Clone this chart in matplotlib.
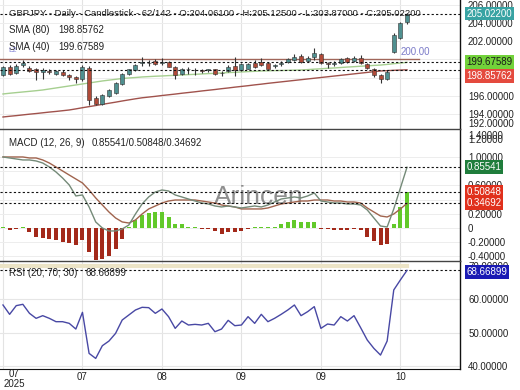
import matplotlib
matplotlib.use("Agg")
import matplotlib.pyplot as plt

plt.rcParams['font.family'] = ['Liberation Sans', 'DejaVu Sans']

# ---------------- data ----------------
opens = [198.30, 199.15, 198.50, 199.40, 199.10, 198.90, 198.60, 198.75, 198.45, 198.65,
         198.30, 198.05, 197.80, 199.10, 195.80, 195.10, 196.00, 196.35, 197.35, 198.45,
         198.85, 199.55, 199.65, 199.85, 199.55, 199.75, 199.20, 198.45, 198.90, 198.85,
         198.85, 198.80, 198.90, 198.50, 198.70, 199.30, 198.80, 199.00, 199.65, 199.75,
         199.55, 199.30, 199.50, 199.70, 199.95, 200.40, 199.85, 200.30, 200.55, 199.60,
         199.50, 199.60, 200.10, 199.80, 200.20, 199.50, 198.95, 198.25, 197.90, 200.80,
         202.35, 204.061]
highs = [199.30, 199.35, 199.50, 199.95, 199.30, 199.05, 199.10, 198.95, 198.85, 198.80,
         198.40, 198.15, 199.40, 199.30, 196.00, 196.20, 196.80, 197.50, 198.55, 199.00,
         199.50, 200.25, 199.90, 200.05, 200.10, 199.85, 199.30, 199.10, 199.15, 199.10,
         198.95, 199.00, 199.00, 198.75, 199.35, 200.25, 199.65, 199.60, 199.90, 200.15,
         199.70, 199.50, 199.85, 200.20, 200.60, 200.55, 200.35, 201.30, 200.65, 199.75,
         199.80, 200.10, 200.30, 200.40, 200.45, 199.60, 199.05, 198.35, 198.85, 202.85,
         204.10, 205.125]
lows = [198.20, 198.30, 198.40, 199.20, 198.60, 197.70, 197.80, 198.40, 198.30, 198.20,
        197.70, 197.40, 197.60, 195.00, 194.95, 195.00, 195.90, 196.20, 197.20, 198.30,
        198.75, 199.30, 199.30, 199.40, 199.35, 199.15, 197.85, 198.30, 198.40, 198.25,
        198.55, 198.60, 198.25, 198.20, 198.60, 198.20, 198.70, 198.90, 199.10, 199.30,
        198.90, 199.10, 199.30, 199.55, 199.80, 199.60, 199.75, 199.95, 199.45, 199.10,
        199.30, 199.50, 199.60, 199.70, 199.50, 198.90, 198.10, 197.45, 197.75, 200.70,
        202.25, 203.870]
closes = [199.15, 198.40, 199.30, 199.55, 198.75, 198.60, 198.85, 198.65, 198.70, 198.30,
          198.05, 197.80, 199.20, 195.50, 195.10, 196.05, 196.65, 197.40, 198.45, 198.90,
          199.40, 199.75, 199.55, 199.50, 199.70, 199.20, 198.30, 199.00, 198.95, 198.80,
          198.75, 198.90, 198.35, 198.55, 199.20, 198.80, 199.50, 199.50, 199.20, 199.40,
          199.00, 199.40, 199.65, 200.00, 200.25, 199.70, 200.20, 200.70, 199.60, 199.50,
          199.65, 200.00, 199.70, 200.20, 199.60, 199.05, 198.25, 197.85, 198.65, 202.70,
          204.00, 205.022]

sma40 = [196.20, 196.28, 196.35, 196.42, 196.49, 196.56, 196.64, 196.75, 196.86, 196.97,
         197.08, 197.19, 197.30, 197.41, 197.52, 197.63, 197.72, 197.81, 197.90, 197.96,
         198.01, 198.07, 198.11, 198.15, 198.18, 198.22, 198.25, 198.29, 198.33, 198.36,
         198.40, 198.44, 198.47, 198.51, 198.55, 198.58, 198.62, 198.66, 198.69, 198.73,
         198.75, 198.77, 198.78, 198.80, 198.82, 198.84, 198.88, 198.93, 198.97, 199.02,
         199.06, 199.11, 199.16, 199.20, 199.25, 199.29, 199.34, 199.38, 199.45, 199.53,
         199.60, 199.676]
sma80 = [193.67, 193.75, 193.82, 193.90, 193.98, 194.05, 194.13, 194.21, 194.28, 194.36,
         194.44, 194.56, 194.69, 194.81, 194.93, 195.06, 195.18, 195.30, 195.43, 195.55,
         195.67, 195.78, 195.86, 195.94, 196.03, 196.11, 196.19, 196.28, 196.36, 196.44,
         196.53, 196.61, 196.69, 196.78, 196.86, 196.95, 197.03, 197.11, 197.20, 197.28,
         197.37, 197.45, 197.53, 197.61, 197.69, 197.77, 197.85, 197.93, 198.01, 198.09,
         198.17, 198.25, 198.33, 198.41, 198.49, 198.57, 198.65, 198.73, 198.76, 198.80,
         198.83, 198.858]

macd = [1.000, 0.986, 0.972, 0.958, 0.958, 0.944, 0.915, 0.859, 0.789, 0.704,
        0.606, 0.451, 0.465, 0.296, 0.085, 0.000, -0.042, -0.042, -0.014, 0.042,
        0.197, 0.338, 0.437, 0.507, 0.535, 0.521, 0.465, 0.437, 0.408, 0.380,
        0.352, 0.338, 0.310, 0.296, 0.310, 0.296, 0.282, 0.296, 0.310, 0.296,
        0.324, 0.366, 0.408, 0.423, 0.437, 0.423, 0.451, 0.493, 0.380, 0.366,
        0.352, 0.352, 0.338, 0.338, 0.324, 0.254, 0.141, 0.028, 0.014, 0.268,
        0.563, 0.855]
signal = [1.000, 1.000, 1.000, 1.000, 0.986, 0.986, 0.958, 0.915, 0.859, 0.803,
          0.746, 0.690, 0.634, 0.535, 0.423, 0.324, 0.225, 0.141, 0.085, 0.070,
          0.113, 0.197, 0.268, 0.310, 0.352, 0.380, 0.394, 0.394, 0.394, 0.394,
          0.380, 0.366, 0.352, 0.324, 0.310, 0.296, 0.268, 0.268, 0.268, 0.268,
          0.282, 0.310, 0.338, 0.352, 0.366, 0.380, 0.380, 0.394, 0.394, 0.394,
          0.380, 0.380, 0.366, 0.366, 0.352, 0.282, 0.225, 0.169, 0.155, 0.197,
          0.268, 0.347]
hist = [0.01, -0.03, -0.02, 0.0, -0.06, -0.13, -0.14, -0.15, -0.17, -0.20,
        -0.21, -0.24, -0.17, -0.34, -0.45, -0.43, -0.39, -0.29, -0.15, 0.02,
        0.11, 0.18, 0.21, 0.23, 0.23, 0.15, 0.06, 0.05, 0.01, 0.01,
        -0.01, -0.02, -0.04, -0.08, -0.06, -0.05, -0.04, -0.01, 0.0, 0.01,
        0.01, 0.01, 0.05, 0.08, 0.11, 0.08, 0.08, 0.08, -0.01, -0.01,
        -0.03, -0.03, -0.03, -0.02, -0.03, -0.12, -0.19, -0.24, -0.23, 0.06,
        0.30, 0.508]
rsi = [58.3, 55.5, 58.1, 58.5, 55.8, 54.3, 55.1, 54.3, 53.3, 53.3,
       52.8, 51.1, 56.1, 43.8, 42.3, 46.1, 47.5, 49.8, 53.8, 55.3,
       56.8, 57.6, 57.5, 55.8, 57.1, 54.8, 51.3, 53.5, 52.3, 52.5,
       52.3, 52.8, 50.3, 51.1, 53.7, 52.1, 52.3, 54.8, 52.8, 55.5,
       53.3, 54.3, 55.5, 56.8, 58.3, 55.1, 56.3, 57.8, 51.3, 52.6,
       52.3, 54.8, 53.5, 55.1, 51.5, 47.8, 45.3, 43.3, 47.5, 62.8,
       65.8, 68.67]

tick_bars = [12, 24, 36, 48, 60]
tick_labels = ["07", "08", "09", "09", "10"]
first_label = "07\n2025"

price_ticks = [206, 204, 202, 200, 196, 194]
macd_ticks = [1.0, 0.6, 0.2, 0.0, -0.2, -0.4]
rsi_ticks = [70, 60, 50, 40]

last_sma40 = 199.67589
last_sma80 = 198.85762
last_close = 205.02200
level_200 = 200.0
macd_last, hist_last, sig_last = 0.85541, 0.50848, 0.34692
rsi_last = 68.66899
rsi_level = 70

# ---------------- layout ----------------
W, H = 520, 390
fig = plt.figure(figsize=(5.2, 3.9), dpi=100)
RIGHT = 460


def ax_at(top, bottom):
    return fig.add_axes([0, 1 - bottom / H, RIGHT / W, (bottom - top) / H])


ax1 = ax_at(0, 129)
ax2 = ax_at(129, 261)
ax3 = ax_at(261, 369)

n = len(closes)
xs = list(range(n))
XL = (-0.45, 69.0)
FS = 7
TXT = "#222222"
UP = "#4f9090"
DN = "#b04a38"

for ax in (ax1, ax2, ax3):
    ax.set_xlim(*XL)
    ax.set_facecolor("white")
    for s in ("left", "top", "bottom"):
        ax.spines[s].set_visible(False)
    ax.spines["right"].set_color("#111111")
    ax.spines["right"].set_linewidth(1.0)
    ax.yaxis.tick_right()
    ax.tick_params(axis="y", length=0, pad=5.8, labelsize=FS, labelcolor=TXT)
    ax.tick_params(axis="x", length=0)
    for b in [0] + tick_bars:
        ax.axvline(b, color="#e3e3e3", lw=0.8, zorder=0)

for ax in (ax2, ax3):
    ax.spines["top"].set_visible(True)
    ax.spines["top"].set_color("#444444")
    ax.spines["top"].set_linewidth(1.0)
ax3.spines["bottom"].set_visible(True)
ax3.spines["bottom"].set_color("#111111")

# ---------------- price panel ----------------
ax1.set_ylim(192.35, 206.53)
ax1.set_yticks(price_ticks)
ax1.set_yticklabels([f"{v:.5f}" for v in price_ticks])
for v in price_ticks + [198]:
    ax1.axhline(v, color="#ededed", lw=0.7, zorder=0)
ax1.set_xticks([])

ax1.plot(xs, sma80, color="#a0524c", lw=1.0, zorder=2)
ax1.plot(xs, sma40, color="#a6cf90", lw=1.0, zorder=2)
ax1.plot([XL[0], 62.8], [level_200, level_200], color="#a0665a", lw=1.0, zorder=2)

cw = 0.6
for i in range(n):
    o, h, l, c = opens[i], highs[i], lows[i], closes[i]
    col = UP if c >= o else DN
    ax1.vlines(i, l, h, color="#333333", lw=0.8, zorder=3)
    bot = min(o, c)
    ht = max(abs(c - o), 0.06)
    ax1.bar(i, ht, bottom=bot, width=cw, color=col, edgecolor="#333333", linewidth=0.4, zorder=4)

for v in (last_close, last_sma40, last_sma80):
    ax1.axhline(v, color="#111111", lw=0.8, ls=(0, (2, 2)), zorder=5)

ax1.text(62.3, level_200 + 0.25, "200.00", color="#7b7bc8", fontsize=FS, ha="center",
         va="bottom", zorder=6)

# legend texts
fig.text(9 / W, 1 - 13 / H, "GBPJPY - Daily - Candlestick - 62/142 - O:204.06100 - H:205.12500 - "
         "L:203.87000 - C:205.02200", fontsize=6.8, color=TXT, va="center", ha="left")
fig.text(9 / W, 1 - 30 / H, "SMA (80)", fontsize=FS, color=TXT, va="center")
fig.text(58 / W, 1 - 30 / H, f"{last_sma80:.5f}", fontsize=FS, color=TXT, va="center")
fig.text(9 / W, 1 - 47 / H, "SMA (40)", fontsize=FS, color=TXT, va="center")
fig.text(58 / W, 1 - 47 / H, f"{last_sma40:.5f}", fontsize=FS, color=TXT, va="center")
fig.text(8 / W, 1 - 51 / H, "L2", fontsize=5.5, color="#8a8ad8", va="center")
fig.text(468 / W, 1 - 124 / H, "192.00000", fontsize=FS, color=TXT, va="center")


def box(ax, yval, label, fc, tc, dy=0.0):
    ax.annotate(label, xy=(1, yval), xycoords=("axes fraction", "data"),
                xytext=(4.6, dy), textcoords="offset points", ha="left", va="center",
                fontsize=FS, color=tc, annotation_clip=False, zorder=10,
                bbox=dict(boxstyle="square,pad=0.18", fc=fc, ec="none"))


box(ax1, last_close, f"{last_close:.5f}", "#38a3a3", "white")
box(ax1, last_sma40, f"{last_sma40:.5f}", "#72d23a", "#1a1a1a", dy=0.3)
box(ax1, last_sma80, f"{last_sma80:.5f}", "#e44a3e", "white", dy=-4.4)

# ---------------- MACD panel ----------------
ax2.set_ylim(-0.465, 1.394)
ax2.set_yticks(macd_ticks)
ax2.set_yticklabels(["0" if v == 0 else f"{v:.5f}" for v in macd_ticks])
for v in macd_ticks + [0.8, 0.4]:
    ax2.axhline(v, color="#ededed", lw=0.7, zorder=0)
ax2.set_xticks([])
hcols = ["#62c92a" if v >= 0 else "#a3291a" for v in hist]
hh = [v if abs(v) > 0.012 else (0.012 if v >= 0 else -0.012) for v in hist]
ax2.bar(xs, hh, width=0.6, color=hcols, zorder=2)
ax2.plot(xs, signal, color="#a0644e", lw=1.0, zorder=3)
ax2.plot(xs, macd, color="#748a78", lw=1.0, zorder=3)
for v in (macd_last, hist_last, sig_last):
    ax2.axhline(v, color="#111111", lw=0.8, ls=(0, (2, 2)), zorder=4)
ax2.text(0.5625, 0.43, "Arincen", transform=ax2.transAxes, fontsize=19, color="#7c7c7c",
         alpha=0.85, ha="center", va="baseline", zorder=1)
fig.text(9 / W, 1 - 143 / H, "MACD (12, 26, 9)", fontsize=FS, color=TXT, va="center")
fig.text(92 / W, 1 - 143 / H, f"{macd_last:.5f}/{hist_last:.5f}/{sig_last:.5f}", fontsize=FS,
         color=TXT, va="center")
fig.text(468 / W, 1 - 136 / H, "1.40000", fontsize=FS, color=TXT, va="center")
fig.text(468 / W, 1 - 140 / H, "1.20000", fontsize=FS, color=TXT, va="center")
box(ax2, macd_last, f"{macd_last:.5f}", "#1f7d3c", "white")
box(ax2, hist_last, f"{hist_last:.5f}", "#e0301c", "white")
box(ax2, sig_last, f"{sig_last:.5f}", "#e0301c", "white")

# ---------------- RSI panel ----------------
ax3.set_ylim(39.13, 71.47)
ax3.set_yticks(rsi_ticks)
ax3.set_yticklabels([f"{v:.5f}" for v in rsi_ticks])
for v in rsi_ticks[1:]:
    ax3.axhline(v, color="#e6e6e6", lw=0.8, zorder=0)
ax3.plot([XL[0], n - 1], [rsi_level, rsi_level], color="#ece4c6", lw=3, zorder=1)
ax3.axhline(rsi_last, color="#111111", lw=0.8, ls=(0, (2, 2)), zorder=3)
ax3.plot(xs, rsi, color="#4848a4", lw=1.0, zorder=4)
fig.text(9 / W, 1 - 273 / H, "RSI (20; 70; 30)", fontsize=FS, color=TXT, va="center")
fig.text(85 / W, 1 - 273 / H, f"{rsi_last:.5f}", fontsize=FS, color=TXT, va="center")
box(ax3, rsi_last, f"{rsi_last:.5f}", "#1a1ab4", "white", dy=-1.2)

ax3.set_xticks(tick_bars)
ax3.set_xticklabels(tick_labels, fontsize=FS, color=TXT)
ax3.tick_params(axis="x", pad=2.2)
fig.text(14 / W, 1 - 379 / H, first_label, fontsize=FS, color=TXT, ha="center", va="center",
         linespacing=1.0)

fig.savefig("out.png", dpi=100)
